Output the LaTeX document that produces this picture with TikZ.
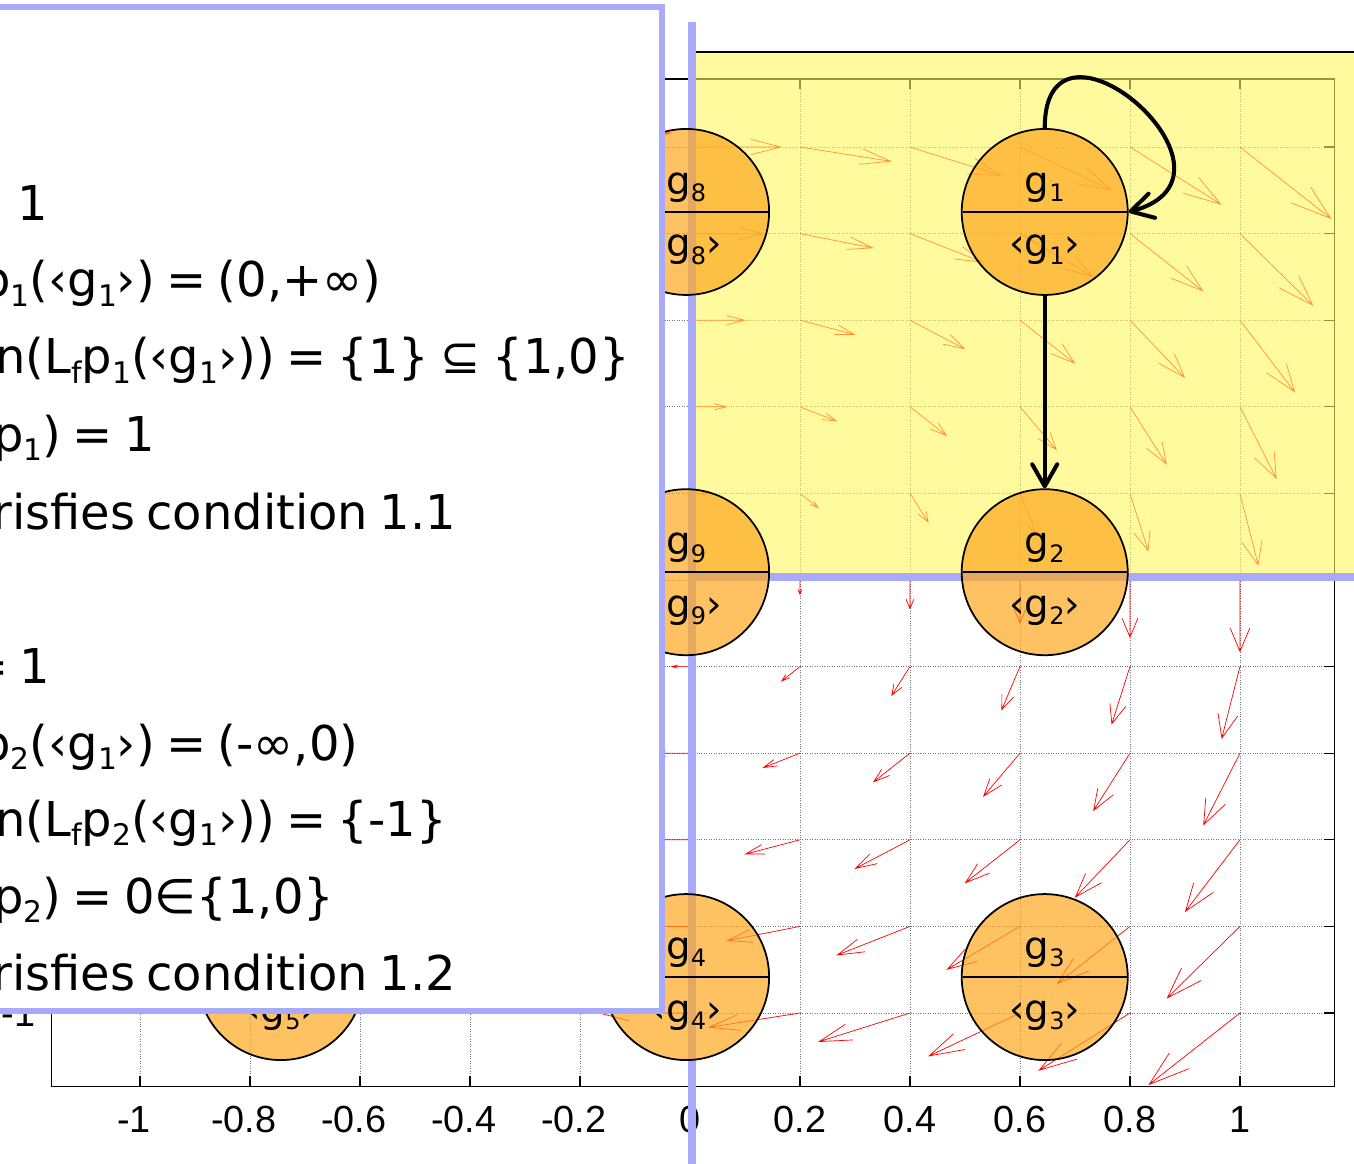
\documentclass[tikz,border=0pt]{standalone}
\usepackage{fontspec}
\setmainfont[WordSpace=0.75]{DejaVu Sans}
\newfontfamily\tickfont{Liberation Sans}
\usetikzlibrary{arrows.meta,shapes.multipart}
\definecolor{lavender}{RGB}{170,170,250}
\definecolor{hiyellow}{RGB}{255,247,93}
\definecolor{stateorange}{RGB}{254,168,31}
% small lowered index
\newcommand{\sub}[1]{\raisebox{-0.2em}{\scalebox{0.62}{#1}}}
% upper and lower part of a state circle
\newcommand{\gpart}[1]{g\sub{#1}\rule[-0.35em]{0pt}{0pt}\nodepart{lower}\rule{0pt}{1.05em}‹g\sub{#1}›}

\begin{document}
\begin{tikzpicture}[x=11cm, y=8.66cm,
  grid/.style={densely dotted, line width=0.4pt, black!55},
  vec/.style={red, line width=0.4pt},
  frame/.style={line width=0.6pt},
  state/.style={circle split, draw, line width=1pt, fill=stateorange, fill opacity=0.7, text opacity=1, minimum size=3.32cm, inner sep=2pt, font=\fontsize{22}{26}\selectfont},
  txt/.style={anchor=base west, inner sep=0pt, font=\fontsize{27.3}{32}\selectfont},
  tick/.style={inner sep=0pt, font=\tickfont\fontsize{21.5}{25}\selectfont},
  arr/.style={-{Straight Barb[length=4.4mm, width=5mm, round]}, line width=2.3pt}]
\useasboundingbox (-1.2545,-1.3487) rectangle (1.2073,1.3395);

% quiver plot
\foreach \k in {-5,...,5} {
  \draw[grid] (0.2*\k,-1.169) -- (0.2*\k,1.157);
  \draw[grid] (-1.16,0.2*\k) -- (1.171,0.2*\k);
  \draw[frame] (0.2*\k,-1.169) -- ++(0,0.023) (0.2*\k,1.157) -- ++(0,-0.023);
  \draw[frame] (-1.16,0.2*\k) -- ++(0.018,0) (1.171,0.2*\k) -- ++(-0.018,0);
}
\draw[frame] (-1.16,-1.169) rectangle (1.171,1.157);
\foreach \lab [count=\n] in {-1,-0.8,-0.6,-0.4,-0.2,0,0.2,0.4,0.6,0.8,1}
  \node[tick] (xl\n) at ({-1.2+0.2*\n-(\n<6 ? 0.011 : 0)},-1.247) {\lab};
\node[tick, anchor=east] (yl1) at (-1.19,-1) {-1};

\foreach \i in {-5,...,5} {
  \foreach \j in {-5,...,5} {
    \pgfmathsetmacro{\qx}{0.2*\i}
    \pgfmathsetmacro{\qy}{0.2*\j}
    \pgfmathsetmacro{\qu}{0.165*\qy}
    \pgfmathsetmacro{\qv}{-0.165*\qx}
    \pgfmathsetmacro{\tx}{\qx+\qu}
    \pgfmathsetmacro{\ty}{\qy+\qv}
    \draw[vec] (\qx,\qy) -- (\tx,\ty)
      (\tx-0.33*\qu-0.1089*\qv,\ty-0.33*\qv+0.1089*\qu) -- (\tx,\ty)
      -- (\tx-0.33*\qu+0.1089*\qv,\ty-0.33*\qv-0.1089*\qu);
  }
}

% highlighted quadrant
\path[draw=black, line width=1.1pt, fill=hiyellow, fill opacity=0.6] (0,0) rectangle (1.3,1.219);
\draw[lavender, line width=4.5pt] (0.0036,1.289) -- (0.0036,-1.4);
\draw[lavender, line width=4.5pt] (0.0036,0.0069) -- (1.3,0.0069);

% states
\foreach \n/\xx/\yy in {8/-0.007/0.85, 1/0.645/0.85, 9/-0.007/0.018, 2/0.645/0.018,
                        5/-0.744/-0.917, 4/-0.007/-0.917, 3/0.645/-0.917}
  \node[state] (g\n) at (\xx,\yy) {\gpart{\n}};
\draw[arr] (g1.south) -- (g2.north);
\draw[arr] (g1.north) to[out=90, in=15, looseness=3] (g1.east);

% text box
\draw[lavender, line width=3.5pt, fill=white] (-1.4,-0.9954) rectangle (-0.0509,1.3233);
\node[txt] (l1) at (-1.2236,0.8314) {1};
\node[txt] (l2) at (-1.2909,0.6536) {p\sub{1}(‹g\sub{1}›) = (0,+∞)};
\node[txt] (l3) at (-1.2636,0.4758) {n(L\sub{f}p\sub{1}(‹g\sub{1}›)) = \{1\} ⊆ \{1,0\}};
\node[txt] (l4) at (-1.2673,0.2979) {p\sub{1}) = 1};
\node[txt] (l5) at (-1.2691,0.1178) {risfies condition 1.1};
\node[txt] (l6) at (-1.3127,-0.2379) {= 1};
\node[txt] (l7) at (-1.2909,-0.4157) {p\sub{2}(‹g\sub{1}›) = (-∞,0)};
\node[txt] (l8) at (-1.2636,-0.5912) {n(L\sub{f}p\sub{2}(‹g\sub{1}›)) = \{-1\}};
\node[txt] (l9) at (-1.2673,-0.7691) {p\sub{2}) = 0∈\{1,0\}};
\node[txt] (l10) at (-1.2691,-0.9469) {risfies condition 1.2};
\end{tikzpicture}
\end{document}
